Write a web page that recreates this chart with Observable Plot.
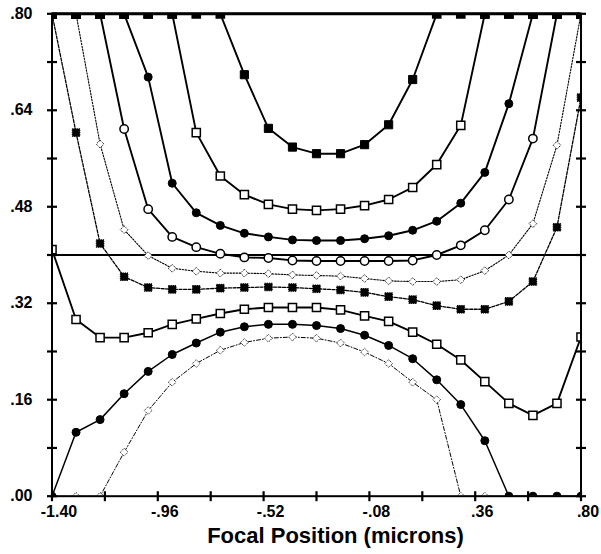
<!DOCTYPE html>
<html><head><meta charset="utf-8">
<script src="https://cdn.jsdelivr.net/npm/d3@7"></script>
<script src="https://cdn.jsdelivr.net/npm/@observablehq/plot@0.6"></script>
<style>body{margin:0;background:#fff}</style>
</head><body><div id="chart"></div>
<script>
// Focal positions (microns)
const focus = [-1.4,-1.3,-1.2,-1.1,-1.0,-0.9,-0.8,-0.7,-0.6,-0.5,-0.4,-0.3,-0.2,-0.1,0,0.1,0.2,0.3,0.4,0.5,0.6,0.7,0.8];

// Series values (clipped to the plotted range 0 .. 0.80)
const curveA = [0.80,0.80,0.80,0.80,0.80,0.80,0.80,0.80,0.699,0.610,0.579,0.568,0.568,0.583,0.616,0.691,0.80,0.80,0.80,0.80,0.80,0.80,0.80];
const curveB = [0.80,0.80,0.80,0.80,0.80,0.80,0.603,0.531,0.500,0.484,0.476,0.474,0.476,0.482,0.492,0.512,0.550,0.615,0.80,0.80,0.80,0.80,0.80];
const curveC = [0.80,0.80,0.80,0.80,0.695,0.519,0.470,0.449,0.436,0.430,0.425,0.424,0.424,0.427,0.432,0.441,0.456,0.486,0.537,0.651,0.80,0.80,0.80];
const curveD = [0.80,0.80,0.80,0.609,0.476,0.430,0.413,0.402,0.396,0.395,0.391,0.390,0.390,0.390,0.390,0.391,0.400,0.416,0.441,0.492,0.593,0.80,0.80];
const curveE = [0.80,0.80,0.584,0.442,0.399,0.378,0.373,0.370,0.370,0.369,0.367,0.366,0.365,0.361,0.357,0.356,0.356,0.359,0.374,0.400,0.452,0.582,0.80];
const curveF = [0.80,0.603,0.419,0.364,0.346,0.343,0.343,0.345,0.346,0.347,0.346,0.344,0.342,0.338,0.331,0.326,0.316,0.310,0.310,0.323,0.356,0.446,0.661];
const curveG = [0.409,0.293,0.263,0.263,0.271,0.285,0.294,0.303,0.310,0.313,0.313,0.313,0.309,0.299,0.290,0.272,0.252,0.226,0.190,0.154,0.134,0.154,0.264];
const curveH = [0.0,0.106,0.127,0.170,0.207,0.235,0.254,0.272,0.281,0.285,0.285,0.283,0.278,0.267,0.250,0.228,0.193,0.152,0.092,0.0,0.0,0.0,0.0];
const curveI = [0.0,0.0,0.0,0.073,0.142,0.189,0.220,0.242,0.255,0.262,0.264,0.262,0.254,0.239,0.220,0.189,0.160,0.0,0.0,0.0,0.0,0.0,0.0];

// Axis ticks and labels
const xTicks = [-1.40,-1.18,-0.96,-0.74,-0.52,-0.30,-0.08,0.14,0.36,0.58,0.80];
const xTickLabels = [-1.40,-0.96,-0.52,-0.08,0.36,0.80];
const yTicks = [0,0.08,0.16,0.24,0.32,0.40,0.48,0.56,0.64,0.72,0.80];
const yTickLabels = [0,0.16,0.32,0.48,0.64,0.80];
const referenceLine = [0.40];
const xTitle = "Focal Position (microns)";
const xDomain = [-1.40, 0.80];
const yDomain = [0, 0.80];

// Styles per series
const styles = [
  {values: curveA, symbol: "square",   fill: "black", r: 4.6, sw: 1.9, dash: null,      mw: 1},
  {values: curveB, symbol: "square",   fill: "white", r: 4.6, sw: 1.9, dash: null,      mw: 1.5},
  {values: curveC, symbol: "circle",   fill: "black", r: 4,   sw: 1.9, dash: null,      mw: 1},
  {values: curveD, symbol: "circle",   fill: "white", r: 4.2, sw: 1.9, dash: null,      mw: 1.5},
  {values: curveE, symbol: "diamond2", fill: "white", r: 3.5, sw: 1.1, dash: "1.5,1.5", mw: 1},
  {values: curveF, symbol: "square",   fill: "black", r: 4.3, sw: 1.3, dash: "3,1.5",   mw: 1},
  {values: curveG, symbol: "square",   fill: "white", r: 4.6, sw: 1.9, dash: null,      mw: 1.5},
  {values: curveH, symbol: "circle",   fill: "black", r: 4,   sw: 1.5, dash: null,      mw: 1},
  {values: curveI, symbol: "diamond2", fill: "white", r: 3.5, sw: 1,   dash: "4,2,1,2", mw: 0.9}
];

// Custom tick symbols (crossing the axis line)
const hTick = {draw(ctx) { ctx.moveTo(-5, 0); ctx.lineTo(5, 0); }};
const vTick = {draw(ctx) { ctx.moveTo(0, -5); ctx.lineTo(0, 5); }};

const fmt = d => (d < 0 ? "-" : "") + Math.abs(d).toFixed(2).replace(/^0/, "");

const marks = [];
for (const s of styles) {
  const rows = focus.map((f, i) => ({x: f, y: s.values[i]}));
  marks.push(Plot.line(rows, {x: "x", y: "y", stroke: "black", strokeWidth: s.sw, strokeDasharray: s.dash, clip: "frame"}));
}
marks.push(Plot.ruleY(referenceLine, {stroke: "black", strokeWidth: 1.8}));
for (const s of styles.slice().reverse()) {
  const rows = focus.map((f, i) => ({x: f, y: s.values[i]}));
  const inside = rows.filter(d => d.y < yDomain[1]);
  marks.push(Plot.dot(inside, {x: "x", y: "y", symbol: s.symbol, r: s.r, fill: s.fill, stroke: "black", strokeWidth: s.mw, strokeDasharray: s.dash ? "1.2,1" : null, clip: "frame"}));
}
for (const s of styles) {
  const rows = focus.map((f, i) => ({x: f, y: s.values[i]}));
  const top = rows.filter(d => d.y >= yDomain[1]);
  marks.push(Plot.dot(top, {x: "x", y: "y", symbol: "square", r: 4.6, fill: "black", stroke: "black", clip: "frame"}));
}
marks.push(
  Plot.frame({stroke: "black", strokeWidth: 2}),
  Plot.ruleY([yDomain[1]], {stroke: "black", strokeWidth: 3}),
  // crossing tick marks on left, right and bottom axes
  Plot.dot(yTicks, {y: d => d, x: () => xDomain[0], symbol: hTick, fill: "none", stroke: "black", strokeWidth: 2.2}),
  Plot.dot(yTicks, {y: d => d, x: () => xDomain[1], symbol: hTick, fill: "none", stroke: "black", strokeWidth: 2.2}),
  Plot.dot(xTicks, {x: d => d, y: () => yDomain[0], symbol: vTick, fill: "none", stroke: "black", strokeWidth: 2.2}),
  Plot.axisY(yTickLabels, {anchor: "left", tickSize: 0, tickPadding: 19.5, tickFormat: fmt, fontSize: 16, fontWeight: "bold", label: null}),
  Plot.axisX(xTickLabels, {anchor: "bottom", tickSize: 0, tickPadding: 9, dx: 7, tickFormat: fmt, fontSize: 16, fontWeight: "bold", label: null}),
  Plot.text([xTitle], {text: d => d, frameAnchor: "bottom", dy: 40, dx: 19, fontSize: 22, fontWeight: "bold", lineAnchor: "middle"})
);

const chart = Plot.plot({
  width: 601,
  height: 554,
  marginLeft: 51.5,
  marginRight: 20.5,
  marginTop: 13.3,
  marginBottom: 58.3,
  x: {domain: xDomain},
  y: {domain: yDomain},
  style: {background: "white", color: "black", fontFamily: "'Liberation Sans', Arial, Helvetica, sans-serif"},
  marks
});
document.getElementById("chart").appendChild(chart);
</script>
</body></html>
